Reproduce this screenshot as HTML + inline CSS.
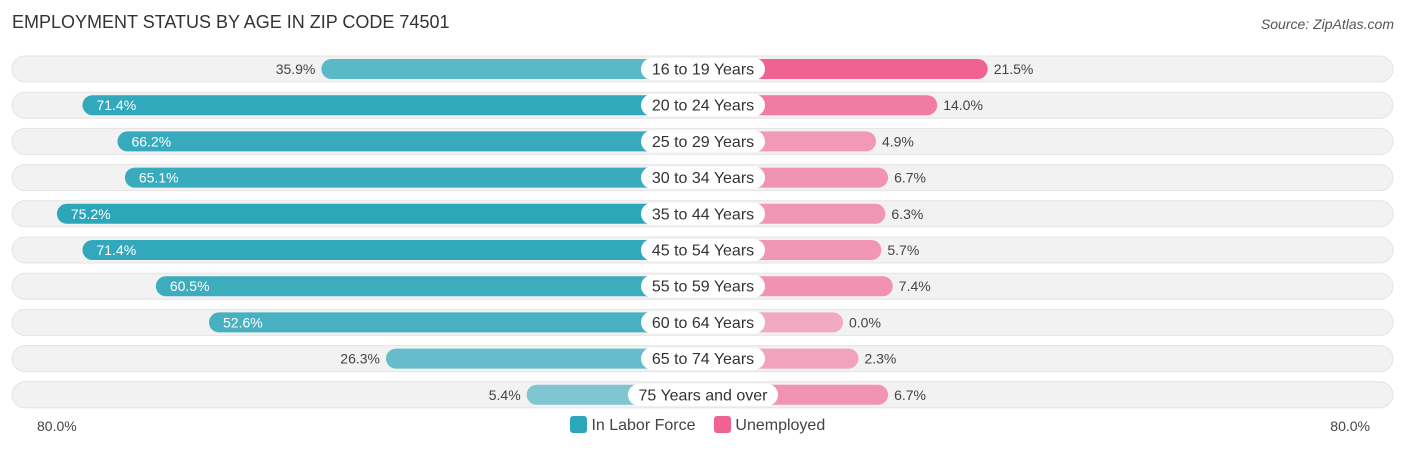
<!DOCTYPE html>
<html><head><meta charset="utf-8"><style>
body{margin:0;background:#fff;font-family:"Liberation Sans",sans-serif;}
#c{position:relative;width:1406px;height:451px;overflow:hidden}
.t{position:absolute;font-size:14px;color:#444}
</style></head><body>
<div id="c">
<div class="t" style="left:12px;top:12px;font-size:18px;color:#333">EMPLOYMENT STATUS BY AGE IN ZIP CODE 74501</div>
<div class="t" style="right:12px;top:16px;font-style:italic;color:#555">Source: ZipAtlas.com</div>
<div class="t" style="left:37px;top:418px">80.0%</div>
<div class="t" style="right:36px;top:418px">80.0%</div>
<div style="position:absolute;left:570px;top:416px;font-size:16px;color:#444">
<span><span style="display:inline-block;width:17px;height:17px;background:#2ca6b9;border-radius:3px;vertical-align:-3px"></span> In Labor Force</span>
<span style="margin-left:14px"><span style="display:inline-block;width:17px;height:17px;background:#f06292;border-radius:3px;vertical-align:-3px"></span> Unemployed</span>
</div>
<svg id="s" width="1406" height="451" style="position:absolute;left:0;top:0"></svg>
</div>
<script>
const categories=["16 to 19 Years","20 to 24 Years","25 to 29 Years","30 to 34 Years","35 to 44 Years","45 to 54 Years","55 to 59 Years","60 to 64 Years","65 to 74 Years","75 Years and over"];
const laborForce=[35.9,71.4,66.2,65.1,75.2,71.4,60.5,52.6,26.3,5.4];
const unemployed=[21.5,14.0,4.9,6.7,6.3,5.7,7.4,0.0,2.3,6.7];
const svg=document.getElementById('s');
const NS='http://www.w3.org/2000/svg';
const cx=703, off=140, k=6.73;
function len(v){return off+v*k;}
function rowY(i){return 69+i*36.2;}
function mk(t,a,p){const e=document.createElementNS(NS,t);for(const n in a)e.setAttribute(n,a[n]);(p||svg).appendChild(e);return e;}
categories.forEach((c,i)=>{
 const y=rowY(i);
 const g=mk('g',{});
 
 
 mk('rect',{x:12,y:y-13,width:1381,height:26,rx:13,fill:'#f2f2f2',stroke:'#e4e4e4'},g);
 const lv=laborForce[i], uv=unemployed[i];
 const lw=len(lv), uw=len(uv);
 const lo=0.55+0.45*Math.min(lv/75,1), uo=0.5+0.5*Math.min(uv/21.5,1);
 const b1=mk('rect',{x:cx-lw,y:y-10,width:lw,height:20,rx:10,fill:'#2ca6b9','fill-opacity':lo},g);
 
 
 const b2=mk('rect',{x:cx,y:y-10,width:uw,height:20,rx:10,fill:'#f06292','fill-opacity':uo},g);
 
 
 const inside=lv>45;
 const t1=mk('text',{x:inside?cx-lw+14:cx-lw-6,y:y+5,'font-size':14,fill:inside?'#fff':'#444','text-anchor':inside?'start':'end','font-family':'Liberation Sans'},g);
 t1.textContent=lv.toFixed(1)+'%';
 
 
 const t2=mk('text',{x:cx+uw+6,y:y+5,'font-size':14,fill:'#444','font-family':'Liberation Sans'},g);
 t2.textContent=uv.toFixed(1)+'%';
 
 
 const w=c.length>14?150:124;
 mk('rect',{x:cx-w/2,y:y-11,width:w,height:22,rx:11,fill:'#fff'},g);
 const t3=mk('text',{x:cx,y:y+5.5,'font-size':16,fill:'#333','text-anchor':'middle','font-family':'Liberation Sans'},g);
 t3.textContent=c;
 
 
});
</script>
</body></html>
